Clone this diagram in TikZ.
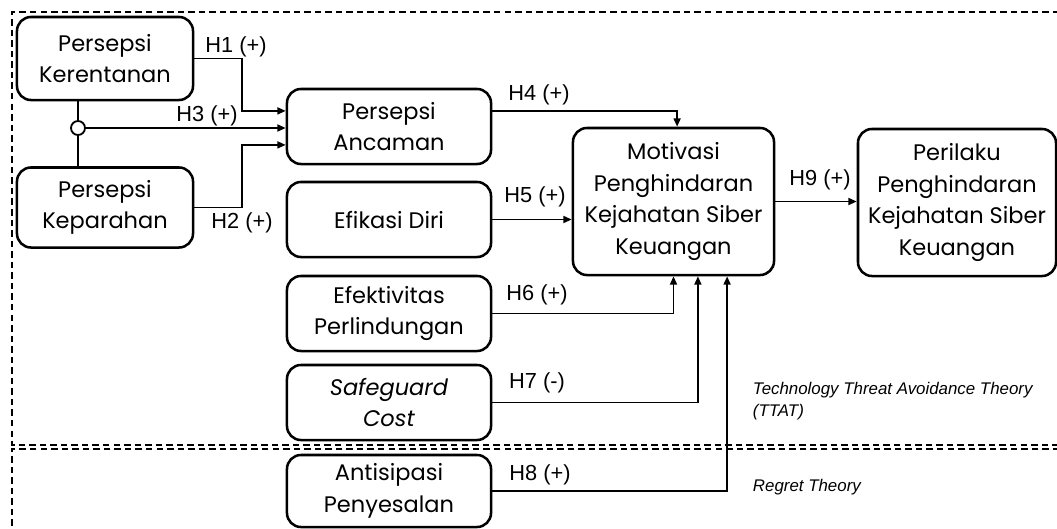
\documentclass[tikz,border=0pt]{standalone}
\usepackage{fontspec}
\setmainfont{Poppins}
\newfontfamily\labelfont{Liberation Sans}
\usetikzlibrary{arrows.meta}

\begin{document}
\begin{tikzpicture}[x=0.025cm,y=-0.025cm,
	var/.style={draw,line width=1.8pt,rounded corners=0.35cm,align=center,inner sep=0pt,font=\fontsize{16}{22.5}\selectfont},
	arr/.style={line width=1.3pt,-{Triangle[length=6pt,width=5pt]}},
	hyp/.style={font=\labelfont\fontsize{15.5}{18}\selectfont},
	theory/.style={font=\labelfont\itshape\fontsize{12}{15.5}\selectfont,align=left,anchor=west},
	frame/.style={line width=0.8pt,dash pattern=on 4.6pt off 2.9pt}]
	\useasboundingbox (0,0) rectangle (1057,528);
	\begin{scope}
		\clip (0,0) rectangle (1057,528);
		\draw [frame] (1070,12) -- (12,12) -- (12,445) -- (1070,445);
		\draw [frame] (1070,449) -- (12,449) -- (12,540);
	\end{scope}

	\node[var,minimum width=4.4cm,minimum height=2.075cm] (kerent) at (105,58.5) {Persepsi\\Kerentanan};
	\node[var,minimum width=4.4cm,minimum height=2cm] (kepar) at (105,207.5) {Persepsi\\Keparahan};
	\node[draw,circle,line width=1.3pt,minimum size=0.35cm,inner sep=0pt] (junc) at (78,128) {};
	\draw [line width=1.3pt] (junc.north) -- (junc |- kerent.south);
	\draw [line width=1.3pt] (junc.south) -- (junc |- kepar.north);

	\node[var,minimum width=5.1cm,minimum height=1.875cm] (ancam) at (389,126.5) {Persepsi\\Ancaman};
	\node[var,minimum width=5.1cm,minimum height=1.875cm] (efikasi) at (389,219.5) {Efikasi Diri};
	\node[var,minimum width=5.1cm,minimum height=1.875cm] (efekt) at (389,313.5) {Efektivitas\\Perlindungan};
	\node[var,minimum width=5.1cm,minimum height=1.875cm] (safeg) at (389,402.5) {\textit{Safeguard}\\\textit{Cost}};
	\node[var,minimum width=5.1cm,minimum height=1.8cm] (antis) at (389,491) {Antisipasi\\Penyesalan};
	\node[var,minimum width=5.025cm,minimum height=3.675cm] (motiv) at (673.5,201.5) {Motivasi\\Penghindaran\\Kejahatan Siber\\Keuangan};
	\node[var,minimum width=4.95cm,minimum height=3.675cm] (perilaku) at (957,202.5) {Perilaku\\Penghindaran\\Kejahatan Siber\\Keuangan};

	\draw [arr] (kerent.east) -- ++(1.2cm,0) |- ([yshift=0.39cm]ancam.west);
	\draw [arr] (junc.east) -- (junc -| ancam.west);
	\draw [arr] (kepar.east) -- ++(1.2cm,0) |- ([yshift=-0.46cm]ancam.west);
	\draw [arr] ([yshift=0.39cm]ancam.east) -| ([xshift=0.09cm]motiv.north);
	\draw [arr] (efikasi.east) -- (efikasi.east -| motiv.west);
	\draw [arr] (efekt.east) -| (motiv.south);
	\draw [arr] (safeg.east) -| ([xshift=0.61cm]motiv.south);
	\draw [arr] (antis.east) -| ([xshift=1.34cm]motiv.south);
	\draw [arr] (motiv.east) -- (motiv.east -| perilaku.west);

	\node[hyp] (h1) at (236,47) {H1 (+)};
	\node[hyp] (h3) at (207,116) {H3 (+)};
	\node[hyp] (h2) at (242,223) {H2 (+)};
	\node[hyp] (h4) at (539,95) {H4 (+)};
	\node[hyp] (h5) at (535,197) {H5 (+)};
	\node[hyp] (h6) at (537,295) {H6 (+)};
	\node[hyp] (h7) at (537,383) {H7 (-)};
	\node[hyp] (h8) at (540,475) {H8 (+)};
	\node[hyp] (h9) at (820,180) {H9 (+)};

	\node[theory] (ttat) at (748,401) {Technology Threat Avoidance Theory\\(TTAT)};
	\node[theory] (regret) at (748,487) {Regret Theory};
\end{tikzpicture}
\end{document}
